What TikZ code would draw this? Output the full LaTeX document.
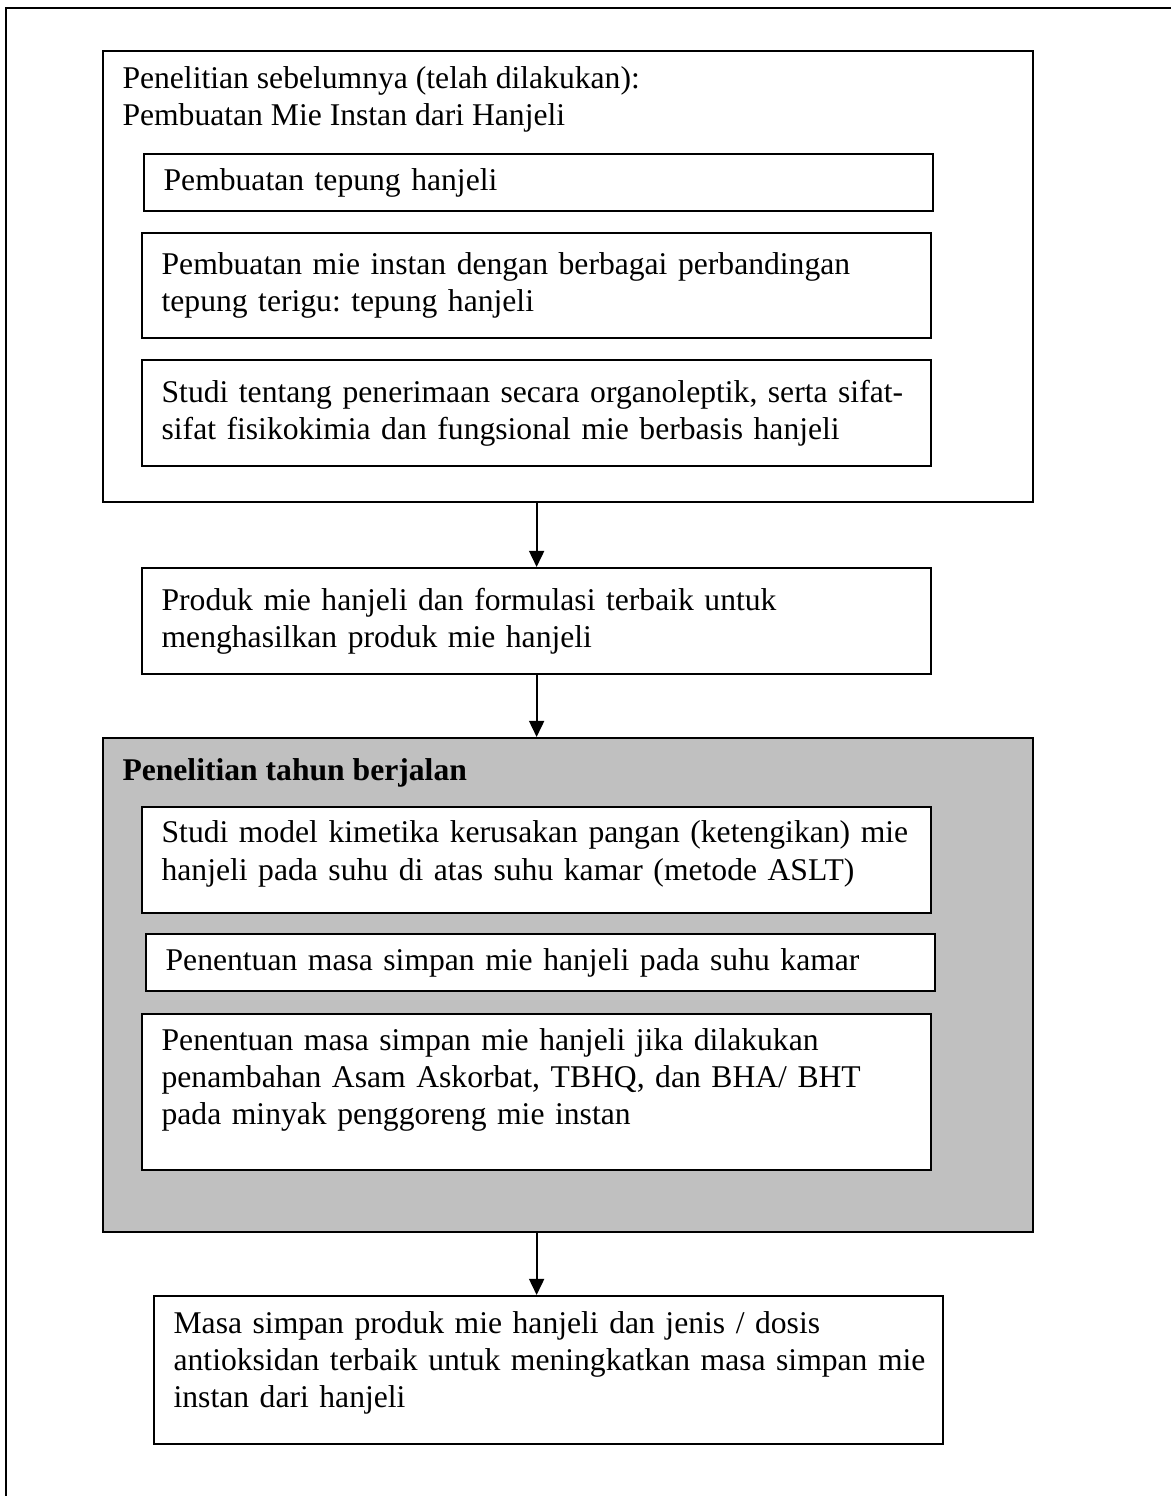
\documentclass[tikz,border=0pt]{standalone}
\usepackage{fontspec}
\setmainfont{Liberation Serif}
\frenchspacing
\usetikzlibrary{arrows.meta}
\definecolor{panelgray}{RGB}{192,192,192}
\tikzset{
	txt/.style={font=\fontsize{12.65pt}{14.9pt}\selectfont},
	box/.style={txt, draw, fill=white, line width=0.9pt, anchor=north west, inner xsep=3.9pt, inner ysep=0pt, align=left, text width=307.8pt, minimum width=315.6pt, execute at begin node={\leftskip=3.9pt}},
	frame/.style={draw, line width=0.9pt, anchor=north west, minimum width=372pt},
	arr/.style={line width=0.9pt, -{Triangle[length=6.5pt,width=6pt]}},
}

\begin{document}
\begin{tikzpicture}[x=0.4pt, y=-0.4pt]
	\useasboundingbox (0,0) rectangle (1171,1496);
	\draw[line width=0.9pt] (6,1496) |- (1171,8); %%% page frame
	
	%%% previous research
	\node[frame, minimum height=180.4pt] (prev) at (102,50) {};
	\node[txt, anchor=north west, align=left, inner sep=0pt] (prevhead) at (122,66) {Penelitian sebelumnya (telah dilakukan):\\Pembuatan Mie Instan dari Hanjeli};
	\node[box, minimum height=22.8pt] (flour) at (143,153) {Pembuatan tepung hanjeli};
	\node[box, minimum height=42pt] (ratio) at (141,232) {Pembuatan mie instan dengan berbagai perbandingan\\tepung terigu: tepung hanjeli};
	\node[box, minimum height=42.4pt] (study) at (141,359) {Studi tentang penerimaan secara organoleptik, serta sifat-\\sifat fisikokimia dan fungsional mie berbasis hanjeli};
	
	\node[box, minimum height=42.4pt] (product) at (141,567) {Produk mie hanjeli dan formulasi terbaik untuk\\menghasilkan produk mie hanjeli};
	
	%%% current year
	\node[frame, fill=panelgray, minimum height=197.6pt] (curr) at (102,737) {};
	\node[txt, anchor=base west, inner sep=0pt] (currhead) at (122,780) {\textbf{Penelitian tahun berjalan}};
	\node[box, minimum height=42.4pt, text depth=22.5pt] (kinetic) at (141,806) {Studi model kimetika kerusakan pangan (ketengikan) mie\\hanjeli pada suhu di atas suhu kamar (metode ASLT)};
	\node[box, minimum height=22.8pt] (room) at (145,933) {Penentuan masa simpan mie hanjeli pada suhu kamar};
	\node[box, minimum height=62.4pt, text depth=42.2pt] (antiox) at (141,1013) {Penentuan masa simpan mie hanjeli jika dilakukan\\penambahan Asam Askorbat, TBHQ, dan BHA/ BHT\\pada minyak penggoreng mie instan};
	
	\node[box, minimum height=59.2pt, text depth=38.2pt] (result) at (153,1295) {Masa simpan produk mie hanjeli dan jenis / dosis\\antioksidan terbaik untuk meningkatkan masa simpan mie\\instan dari hanjeli};
	
	\draw[arr] (prev.south -| product.north) -- (product.north);
	\draw[arr] (product.south) -- (product.south |- curr.north);
	\draw[arr] (curr.south -| product.south) -- (result.north -| product.south);
\end{tikzpicture}
\end{document}
